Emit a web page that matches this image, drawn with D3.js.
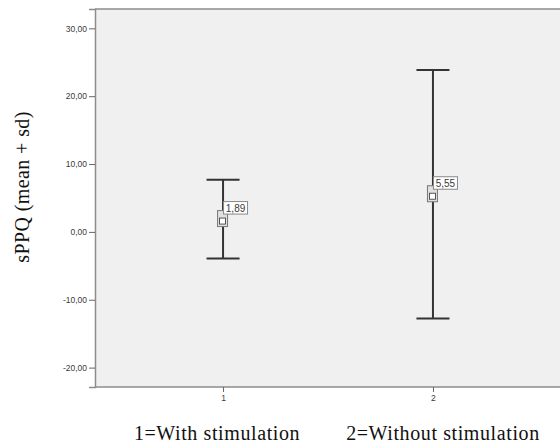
<!DOCTYPE html>
<html>
<head>
<meta charset="utf-8">
<script src="https://cdn.jsdelivr.net/npm/d3@7"></script>
<style>
  body { margin: 0; background: #fff; }
  svg { display: block; }
</style>
</head>
<body>
<div id="chart"></div>
<script>
// Data
const categories = ['1', '2'];
const groupNames = ['1=With stimulation', '2=Without stimulation'];
const means = [1.89, 5.55];
const sds = [5.8, 18.3];
const meanLabels = ['1,89', '5,55'];
const yTicks = [-20, -10, 0, 10, 20, 30];

const W = 560, H = 443;
const plot = {left: 95, right: 561, top: 9, bottom: 387};

const svg = d3.select('#chart')
  .append('svg')
  .attr('width', W)
  .attr('height', H);

// Scales
const x = d3.scalePoint()
  .domain(categories)
  .range([plot.left, plot.right])
  .padding(0.61);

const y = d3.scaleLinear()
  .domain([-22.86, 32.85])
  .range([plot.bottom, plot.top]);

// Plot background
svg.append('rect')
  .attr('x', plot.left)
  .attr('y', plot.top)
  .attr('width', plot.right - plot.left)
  .attr('height', plot.bottom - plot.top)
  .attr('fill', '#f0f0f0');

// top frame line
svg.append('line')
  .attr('x1', plot.left).attr('x2', W)
  .attr('y1', plot.top).attr('y2', plot.top)
  .attr('stroke', '#8c8c8c').attr('stroke-width', 1.5);

// Y axis
const yAxis = svg.append('g')
  .attr('transform', `translate(${plot.left},0)`)
  .call(d3.axisLeft(y).tickValues(yTicks).tickSize(6).tickPadding(2)
    .tickFormat(d => d3.format('.2f')(d).replace('.', ',').replace('−', '-')));
yAxis.select('.domain').attr('stroke', '#8c8c8c').attr('stroke-width', 1.5);
yAxis.selectAll('.tick line').attr('stroke', '#666');
yAxis.selectAll('text')
  .attr('fill', '#3a3a3a')
  .style('font-family', 'Liberation Sans, Arial, sans-serif')
  .style('font-size', '8.5px');

// X axis
const xAxis = svg.append('g')
  .attr('transform', `translate(0,${plot.bottom})`)
  .call(d3.axisBottom(x).tickSize(5).tickPadding(3));
xAxis.select('.domain').attr('stroke', '#8c8c8c').attr('stroke-width', 1.5)
  .attr('d', `M${plot.left},0H${W}`);
xAxis.selectAll('.tick line').attr('stroke', '#666');
xAxis.selectAll('text')
  .attr('fill', '#3a3a3a')
  .style('font-family', 'Liberation Sans, Arial, sans-serif')
  .style('font-size', '8.5px');

// Axis title
svg.append('text')
  .attr('transform', `translate(29,${(plot.top + plot.bottom) / 2 - 11}) rotate(-90)`)
  .attr('text-anchor', 'middle')
  .style('font-family', 'Liberation Serif, Times New Roman, serif')
  .style('font-size', '20px')
  .style('letter-spacing', '0.4px')
  .attr('fill', '#111')
  .text('sPPQ (mean + sd)');

// Group names below axis
const nameShift = [-6, 10];
svg.selectAll('.gname')
  .data(groupNames)
  .enter()
  .append('text')
  .attr('class', 'gname')
  .attr('x', (d, i) => x(categories[i]) + nameShift[i])
  .attr('y', 440)
  .attr('text-anchor', 'middle')
  .style('font-family', 'Liberation Serif, Times New Roman, serif')
  .style('font-size', '20px')
  .style('letter-spacing', '0.6px')
  .attr('fill', '#111')
  .text(d => d);

// Error bars
const capW = 16.5;
const bars = svg.selectAll('.bar')
  .data(categories)
  .enter()
  .append('g')
  .attr('class', 'bar');

bars.append('line')
  .attr('x1', d => x(d)).attr('x2', d => x(d))
  .attr('y1', (d, i) => y(means[i] + sds[i]))
  .attr('y2', (d, i) => y(means[i] - sds[i]))
  .attr('stroke', '#333').attr('stroke-width', 2);

bars.append('line')
  .attr('x1', d => x(d) - capW).attr('x2', d => x(d) + capW)
  .attr('y1', (d, i) => y(means[i] + sds[i]))
  .attr('y2', (d, i) => y(means[i] + sds[i]))
  .attr('stroke', '#333').attr('stroke-width', 2);

bars.append('line')
  .attr('x1', d => x(d) - capW).attr('x2', d => x(d) + capW)
  .attr('y1', (d, i) => y(means[i] - sds[i]))
  .attr('y2', (d, i) => y(means[i] - sds[i]))
  .attr('stroke', '#333').attr('stroke-width', 2);

// Mean marker
bars.append('rect')
  .attr('x', d => x(d) - 5.5)
  .attr('y', (d, i) => y(means[i]) - 8.5)
  .attr('width', 10)
  .attr('height', 16)
  .attr('fill', '#e0e0e0')
  .attr('stroke', '#777')
  .attr('stroke-width', 1);

bars.append('rect')
  .attr('x', d => x(d) - 3.5)
  .attr('y', (d, i) => y(means[i]) - 1)
  .attr('width', 6)
  .attr('height', 6)
  .attr('fill', '#fff')
  .attr('stroke', '#444')
  .attr('stroke-width', 0.9);

// Mean label box
bars.append('rect')
  .attr('x', d => x(d) + 0.5)
  .attr('y', (d, i) => y(means[i]) - 17.5)
  .attr('width', 24)
  .attr('height', 12.5)
  .attr('fill', '#fff')
  .attr('stroke', '#888')
  .attr('stroke-width', 1);

bars.append('text')
  .attr('x', d => x(d) + 12.5)
  .attr('y', (d, i) => y(means[i]) - 7.5)
  .attr('text-anchor', 'middle')
  .style('font-family', 'Liberation Sans, Arial, sans-serif')
  .style('font-size', '10px')
  .attr('fill', '#3a3a3a')
  .text((d, i) => meanLabels[i]);
</script>
</body>
</html>
